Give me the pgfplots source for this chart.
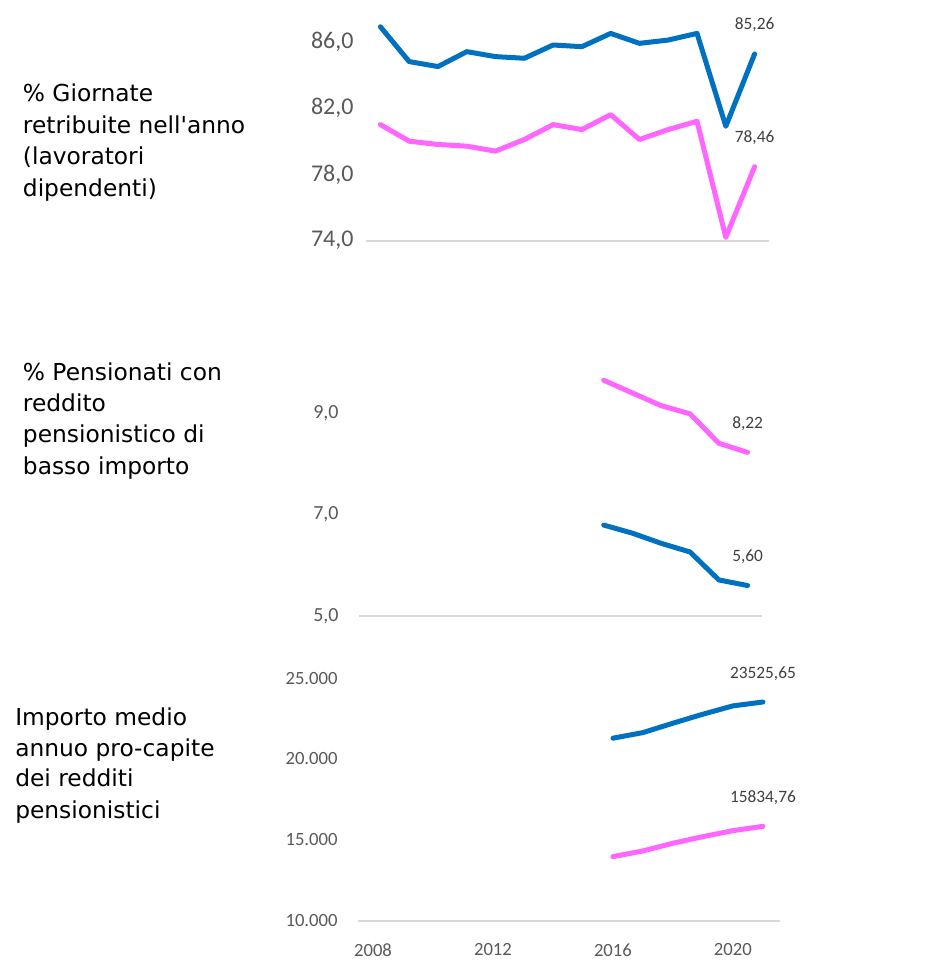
\documentclass[border=0pt]{standalone}
\usepackage{fontspec}
\setmainfont{Carlito}
\newfontfamily\labfont{DejaVu Sans}
\usepackage{pgfplots}
\pgfplotsset{compat=1.18}
\definecolor{bluec}{HTML}{0070C0}
\definecolor{pinkc}{HTML}{FF66FF}
\definecolor{tickgray}{HTML}{595959}
\definecolor{labgray}{HTML}{404040}
\definecolor{axgray}{HTML}{D9D9D9}
\pgfplotsset{
  panel/.style={
    scale only axis, anchor=south west, clip=false,
    xmin=2007.5, scaled y ticks=false, scaled x ticks=false,
    axis x line=bottom, axis y line=left,
    x axis line style={-, draw=axgray, line width=1.5pt},
    y axis line style={draw=none},
    tick style={draw=none},
    xtick=\empty,
    yticklabel style={anchor=east, inner sep=0pt, text=tickgray},
  },
  serie/.style={line width=3.75pt, line join=round, line cap=round, mark=none},
}
\tikzset{dlab/.style={pos=1, anchor=base, yshift=18pt, font=\fontsize{13}{13}\selectfont, text=labgray}}
\newcommand{\lab}[3]{\node[anchor=base west, inner sep=0pt, font=\labfont\fontsize{17.5}{23.75}\selectfont] at (#1pt,#2pt) {#3};}
\begin{document}
\begin{tikzpicture}
\useasboundingbox (0pt,0pt) rectangle (705pt,-722.25pt);
% Panel 1
\begin{axis}[panel,
  width=302.25pt, height=174.1pt, at={(274.5pt,-180.5pt)},
  xmax=2021.5, ymin=74, ymax=88,
  ytick={74,78,82,86}, yticklabels={{74,0},{78,0},{82,0},{86,0}},
  yticklabel style={xshift=-7pt, font=\fontsize{18}{18}\selectfont},
]
\addplot[serie, color=bluec] coordinates {
(2008,86.9) (2009,84.8) (2010,84.5) (2011,85.4) (2012,85.1) (2013,85.0) (2014,85.8)
(2015,85.7) (2016,86.5) (2017,85.9) (2018,86.1) (2019,86.5) (2020,80.9) (2021,85.26)}
 node[dlab] {85,26};
\addplot[serie, color=pinkc] coordinates {
(2008,81.0) (2009,80.0) (2010,79.8) (2011,79.7) (2012,79.4) (2013,80.1) (2014,81.0)
(2015,80.7) (2016,81.6) (2017,80.1) (2018,80.7) (2019,81.2) (2020,74.2) (2021,78.46)}
 node[dlab] {78,46};
\end{axis}
% Panel 2
\begin{axis}[panel,
  width=302.25pt, height=190.5pt, at={(269.25pt,-462pt)},
  xmax=2021.5, ymin=5, ymax=10,
  ytick={5,7,9}, yticklabels={{5,0},{7,0},{9,0}},
  yticklabel style={xshift=-13pt, font=\fontsize{15}{15}\selectfont},
]
\addplot[serie, color=pinkc] coordinates {
(2016,9.64) (2017,9.39) (2018,9.14) (2019,8.98) (2020,8.40) (2021,8.22)}
 node[dlab] {8,22};
\addplot[serie, color=bluec] coordinates {
(2016,6.79) (2017,6.63) (2018,6.43) (2019,6.26) (2020,5.71) (2021,5.60)}
 node[dlab] {5,60};
\end{axis}
% Panel 3
\begin{axis}[panel,
  width=316.5pt, height=194pt, at={(268.5pt,-690.5pt)},
  xmax=2021.57, ymin=10000, ymax=26000,
  ytick={10000,15000,20000,25000}, yticklabels={{10.000},{15.000},{20.000},{25.000}},
  yticklabel style={xshift=-13pt, font=\fontsize{14}{14}\selectfont},
  xtick={2008,2012,2016,2020}, xticklabels={2008,2012,2016,2020},
  xticklabel style={anchor=north, inner sep=0pt, yshift=-15pt, font=\fontsize{14}{14}\selectfont, text=tickgray},
]
\addplot[serie, color=bluec] coordinates {
(2016,21287) (2017,21634) (2018,22215) (2019,22772) (2020,23286) (2021,23525.65)}
 node[dlab] {23525,65};
\addplot[serie, color=pinkc] coordinates {
(2016,13960) (2017,14313) (2018,14790) (2019,15198) (2020,15569) (2021,15834.76)}
 node[dlab] {15834,76};
\end{axis}
% Left labels
\lab{17}{-76.3}{\% Giornate}
\lab{17}{-100}{retribuite nell'anno}
\lab{17}{-123.75}{(lavoratori}
\lab{17}{-147.5}{dipendenti)}
\lab{17}{-285}{\% Pensionati con}
\lab{17}{-308.8}{reddito}
\lab{17}{-332}{pensionistico di}
\lab{17}{-355.5}{basso importo}
\lab{11.25}{-544.3}{Importo medio}
\lab{11.25}{-567.5}{annuo pro-capite}
\lab{11.25}{-590}{dei redditi}
\lab{11.25}{-613.7}{pensionistici}
\end{tikzpicture}
\end{document}
